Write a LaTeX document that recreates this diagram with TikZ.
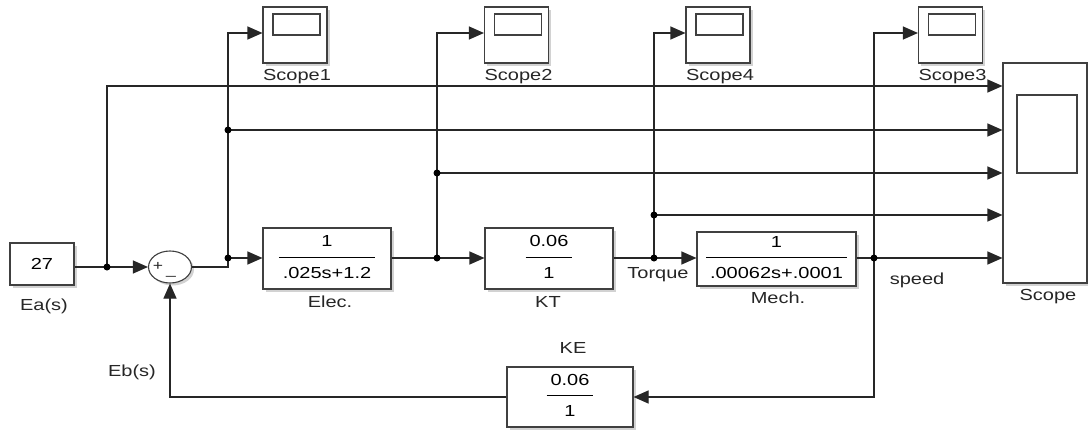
\documentclass[tikz,border=0pt]{standalone}
\usepackage{fontspec}
\setmainfont{Liberation Sans}[FakeStretch=1.25]
\usetikzlibrary{arrows.meta,shadows,shapes.geometric}
\newcommand\blkfrac[2]{\begin{tabular}{@{\hspace{4pt}}c@{\hspace{4pt}}}\rule[-10pt]{0pt}{10pt}#1\\\hline\rule{0pt}{21pt}#2\end{tabular}}
\begin{document}
\begin{tikzpicture}[x=1pt,y=-1pt,
  font=\fontsize{16}{19}\selectfont,
  sig/.style={draw=black!85,line width=1.1pt},
  arr/.style={sig,-{Triangle[length=15pt,width=13pt]}},
  blk/.style={draw=black!75,line width=1.1pt,fill=white,inner sep=0pt,
    drop shadow={shadow xshift=2.5pt,shadow yshift=-2.5pt,opacity=0.35}},
  scr/.style={draw=black!75,line width=1.1pt,fill=white,inner sep=0pt},
  lbl/.style={inner sep=0pt,text=black!85},
  jdot/.style={circle,fill=black,inner sep=0pt,minimum size=7pt}]
\fill[white] (0,0) rectangle (1088,434);
\useasboundingbox (0,0) rectangle (1088,434);

% blocks
\node[blk,minimum width=64pt,minimum height=42pt] (ea) at (42,264) {27};
\node[lbl] (eal) at (44,306) {Ea(s)};
\node[blk,ellipse,minimum width=43pt,minimum height=32pt] (sum) at (170,267) {};
\node[lbl,font=\fontsize{14}{15}\selectfont] (plus) at (158,266) {+};
\node[lbl,font=\fontsize{14}{15}\selectfont] (minus) at (171,276) {\_};
\node[blk,minimum width=128pt,minimum height=61pt] (elec) at (327,258.5) {\blkfrac{1}{.025s+1.2}};
\node[lbl] (elecl) at (330,302) {Elec.};
\node[blk,minimum width=128pt,minimum height=61pt] (kt) at (549,258.5) {\blkfrac{0.06}{1}};
\node[lbl] (ktl) at (548,302) {KT};
\node[lbl] (torque) at (658,275) {Torque};
\node[blk,minimum width=159pt,minimum height=54pt] (mech) at (776.5,259) {\blkfrac{1}{.00062s+.0001}};
\node[lbl] (mechl) at (778,298) {Mech.};
\node[lbl] (speed) at (917,280) {speed};
\node[blk,minimum width=84pt,minimum height=220pt] (scope) at (1045,173) {};
\node[scr,minimum width=60pt,minimum height=78pt] (scopescr) at (1047,134) {};
\node[lbl] (scopel) at (1048,297) {Scope};
\node[blk,minimum width=126pt,minimum height=60pt] (ke) at (570,397) {\blkfrac{0.06}{1}};
\node[lbl] (kel) at (573,348) {KE};
\node[lbl] (ebl) at (132,372) {Eb(s)};

% small scopes
\foreach \n/\x/\t in {sc1/295/Scope1,sc2/516.5/Scope2,sc4/718/Scope4,sc3/950.5/Scope3}{
  \node[blk,minimum width=64pt,minimum height=56pt] (\n) at (\x,35) {};
  \node[scr,minimum width=47pt,minimum height=21pt] (\n scr) at (\x+1.5,24.5) {};
  \node[lbl] (\n l) at (\x+2,77) {\t};
}

% junctions and corners
\coordinate (j0) at (107,267);
\coordinate (c0) at (107,86);
\coordinate (s1) at (228,267);
\coordinate (j1) at (228,258);
\coordinate (j1b) at (228,130);
\coordinate (c1) at (228,33);
\coordinate (j2) at (437,258);
\coordinate (j2b) at (437,173);
\coordinate (c2) at (437,33);
\coordinate (j3) at (654,258);
\coordinate (j3b) at (654,215);
\coordinate (c3) at (654,33);
\coordinate (j4) at (874,258);
\coordinate (c4) at (874,33);
\coordinate (c5) at (874,397);
\coordinate (c6) at (170,397);

% connectors
\draw[sig] (ea.east |- j0) -- (j0);
\draw[arr] (j0) -- (sum.west);
\draw[arr] (j0) -- (c0) -- (scope.west |- c0);
\draw[sig] (sum.east) -- (s1) -- (j1);
\draw[arr] (j1) -- (elec.west |- j1);
\draw[arr] (j1) -- (c1) -- (sc1.west |- c1);
\draw[arr] (j1b) -- (scope.west |- j1b);
\draw[sig] (elec.east |- j2) -- (j2);
\draw[arr] (j2) -- (kt.west |- j2);
\draw[arr] (j2) -- (c2) -- (sc2.west |- c2);
\draw[arr] (j2b) -- (scope.west |- j2b);
\draw[sig] (kt.east |- j3) -- (j3);
\draw[arr] (j3) -- (mech.west |- j3);
\draw[arr] (j3) -- (c3) -- (sc4.west |- c3);
\draw[arr] (j3b) -- (scope.west |- j3b);
\draw[sig] (mech.east |- j4) -- (j4);
\draw[arr] (j4) -- (scope.west |- j4);
\draw[arr] (j4) -- (c4) -- (sc3.west |- c4);
\draw[arr] (j4) -- (c5) -- (ke.east);
\draw[arr] (ke.west) -- (c6) -- (sum.south);

% dots
\foreach \j in {j0,j1,j1b,j2,j2b,j3,j3b,j4}{\node[jdot] at (\j) {};}
\end{tikzpicture}
\end{document}
